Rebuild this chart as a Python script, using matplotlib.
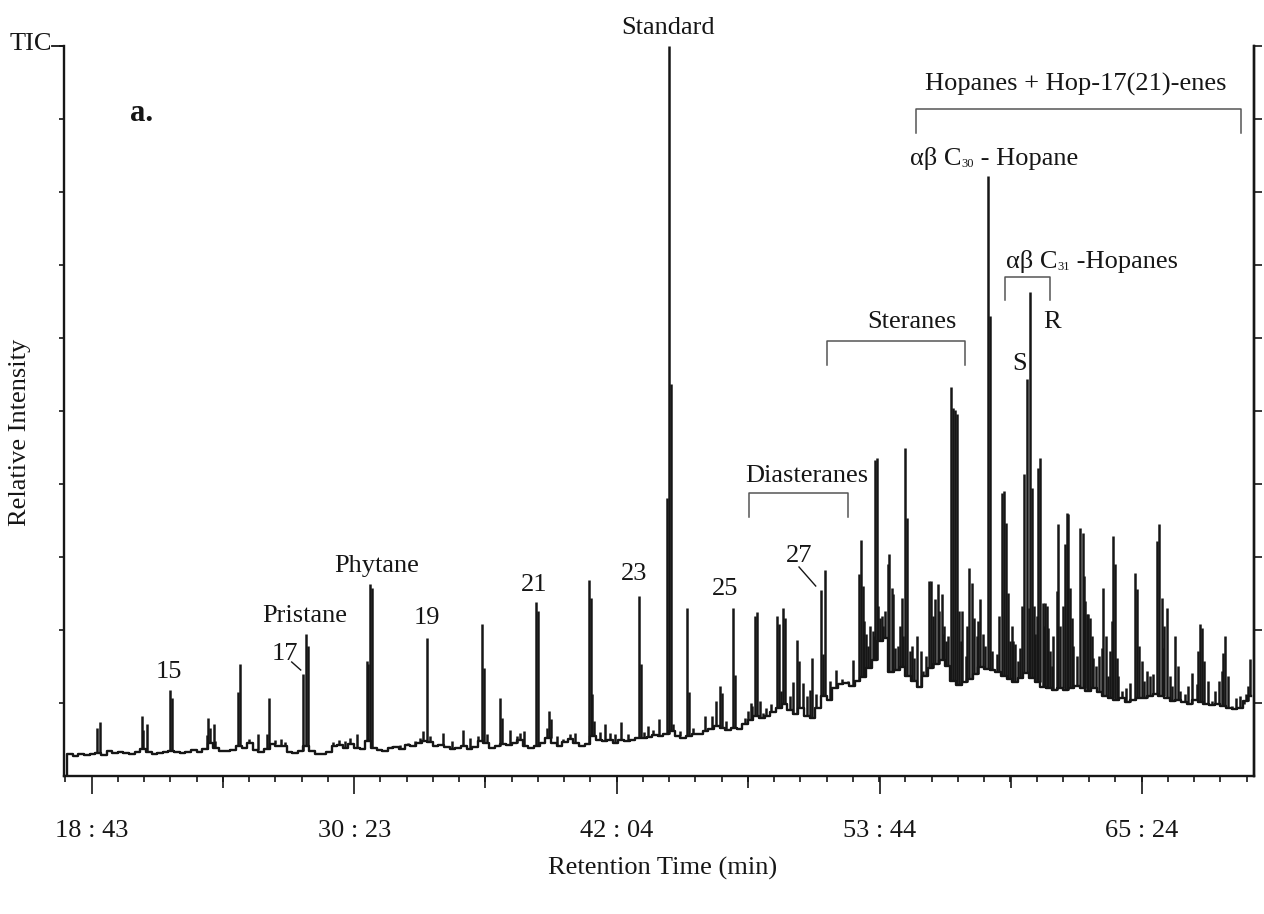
import numpy as np
import matplotlib
matplotlib.use("Agg")
import matplotlib.pyplot as plt

plt.rcParams['font.family'] = ['Liberation Serif', 'DejaVu Serif']

# ---------------- data (retention time in min, intensity in arbitrary units) ----
baseline_start = 17.5
baseline_step = 0.25
baseline = [
    0, 22, 20, 22, 21, 22, 23, 21, 25, 23,
    24, 23, 22, 24, 27, 24, 22, 23, 24, 25,
    24, 23, 24, 26, 24, 27, 33, 28, 25, 25,
    26, 30, 28, 33, 26, 24, 27, 32, 30, 30,
    24, 23, 25, 30, 25, 22, 22, 24, 30, 31,
    28, 32, 28, 27, 35, 28, 26, 25, 28, 29,
    27, 31, 30, 33, 35, 34, 30, 31, 29, 27,
    28, 30, 27, 29, 35, 33, 28, 30, 32, 31,
    33, 36, 30, 28, 30, 33, 38, 33, 30, 34,
    37, 33, 30, 32, 40, 36, 35, 36, 33, 36,
    35, 36, 38, 38, 39, 41, 40, 42, 45, 40,
    38, 40, 42, 42, 45, 47, 50, 48, 46, 48,
    47, 52, 56, 60, 58, 60, 64, 68, 72, 66,
    62, 68, 60, 58, 68, 80, 76, 88, 92, 93,
    90, 95, 99, 108, 116, 135, 138, 104, 106, 109,
    100, 95, 89, 100, 108, 112, 116, 110, 95, 91,
    94, 97, 102, 109, 107, 106, 104, 100, 97, 94,
    98, 103, 98, 94, 89, 88, 86, 88, 86, 88,
    90, 88, 85, 88, 84, 80, 78, 76, 78, 74,
    76, 78, 78, 80, 82, 80, 78, 75, 76, 74,
    72, 76, 74, 72, 71, 72, 70, 68, 67, 68,
    75, 80,
]

peak_times = [
    18.965, 19.072, 20.939, 21.010, 21.188, 22.197, 22.285, 23.828, 23.885, 23.974,
    24.139, 24.210, 25.205, 25.308, 25.708, 26.121, 26.521, 26.610, 26.860, 27.130,
    27.310, 28.121, 28.241, 28.343, 29.440, 29.710, 29.970, 30.190, 30.494, 30.939,
    31.000, 31.085, 31.174, 32.060, 32.420, 32.770, 33.080, 33.310, 33.440, 33.605,
    33.750, 34.317, 34.730, 35.232, 35.530, 35.899, 36.077, 36.152, 36.290, 36.863,
    36.939, 37.308, 37.620, 37.752, 37.930, 38.463, 38.565, 38.939, 39.028, 39.117,
    39.383, 39.660, 39.970, 40.197, 40.805, 40.894, 40.965, 41.054, 41.310, 41.530,
    41.752, 41.970, 42.254, 42.550, 43.028, 43.117, 43.260, 43.454, 43.660, 43.930,
    44.299, 44.374, 44.450, 44.565, 44.860, 45.188, 45.250, 45.454, 45.974, 46.290,
    46.460, 46.641, 46.717, 46.910, 47.232, 47.294, 47.750, 47.890, 48.060, 48.197,
    48.285, 48.420, 48.680, 48.910, 49.161, 49.250, 49.339, 49.454, 49.543, 49.750,
    50.050, 50.139, 50.343, 50.510, 50.717, 50.910, 51.130, 51.205, 51.294, 51.530,
    51.800, 52.060, 52.330, 52.539, 52.832, 52.908, 53.054, 53.130, 53.308, 53.543,
    53.605, 53.752, 53.828, 54.094, 54.165, 54.272, 54.343, 54.419, 54.717, 54.877,
    54.939, 55.170, 55.383, 55.580, 55.943, 56.019, 56.197, 56.317, 56.494, 56.565,
    56.685, 56.908, 57.010, 57.090, 57.161, 57.277, 57.410, 57.570, 57.721, 57.828,
    57.930, 58.050, 58.197, 58.317, 58.539, 58.628, 58.730, 58.939, 59.161, 59.263,
    59.352, 59.454, 59.530, 59.677, 59.752, 59.899, 60.152, 60.272, 60.361, 60.419,
    60.521, 60.641, 60.788, 60.863, 60.983, 61.085, 61.161, 61.232, 61.400, 61.605,
    61.677, 61.974, 62.050, 62.121, 62.197, 62.272, 62.641, 62.761, 62.863, 62.939,
    63.010, 63.085, 63.232, 63.605, 63.677, 63.880, 64.050, 64.121, 64.197, 64.272,
    64.510, 64.690, 64.863, 65.085, 65.188, 65.383, 65.605, 65.885, 66.050, 66.165,
    66.272, 66.343, 66.494, 66.730, 66.863, 67.090, 67.310, 67.605, 67.828, 67.974,
    68.050, 68.165, 68.510, 68.832, 68.939, 69.010, 69.085, 69.400, 69.752, 69.930,
    70.121, 70.197,
    # smaller peaks of the unresolved hump
    48.005, 48.565, 49.899, 50.641,
    52.974, 53.219, 53.419, 53.485, 53.663, 53.885, 53.974, 54.552, 54.641, 54.774,
    55.085, 55.263, 55.663, 55.797, 56.108, 56.374, 56.597, 56.774, 57.352, 57.619,
    58.108, 58.419, 59.041, 59.619, 59.974, 60.063, 60.597, 60.717, 61.041, 61.308,
    61.441, 61.752, 61.863, 62.330, 62.508, 62.819, 63.174, 63.352, 63.485, 63.797,
    63.974, 64.330, 65.263, 65.485, 65.752, 66.374, 66.641, 66.997, 67.441, 67.885,
    68.330, 68.641, 69.219, 69.574, 70.019,
]
peak_heights = [
    48, 54, 60, 46, 52, 86, 78, 41, 58, 48,
    52, 35, 84, 112, 37, 42, 42, 78, 36, 37,
    34, 102, 142, 130, 34, 36, 35, 38, 42, 115,
    112, 192, 188, 30, 31, 33, 35, 38, 45, 138,
    40, 43, 35, 46, 38, 40, 152, 108, 42, 78,
    58, 46, 40, 43, 45, 174, 165, 48, 65, 57,
    40, 37, 42, 43, 196, 178, 82, 55, 44, 52,
    43, 42, 54, 42, 180, 112, 44, 50, 46, 57,
    278, 730, 392, 52, 45, 168, 84, 48, 60, 60,
    75, 90, 83, 55, 168, 101, 58, 65, 70, 160,
    164, 75, 68, 72, 160, 152, 85, 168, 158, 80,
    136, 115, 93, 80, 118, 82, 186, 122, 206, 95,
    106, 97, 95, 116, 202, 236, 155, 142, 150, 316,
    318, 158, 160, 212, 222, 188, 182, 128, 178, 328,
    258, 130, 140, 125, 195, 195, 177, 192, 182, 142,
    135, 389, 368, 366, 362, 165, 165, 120, 208, 193,
    158, 140, 177, 142, 600, 460, 125, 122, 283, 285,
    253, 183, 135, 135, 132, 115, 302, 397, 168, 484,
    288, 142, 308, 318, 173, 173, 170, 148, 110, 185,
    252, 232, 263, 262, 188, 158, 248, 243, 175, 162,
    162, 158, 118, 128, 188, 100, 155, 240, 212, 118,
    85, 88, 93, 203, 187, 115, 105, 102, 235, 252,
    178, 128, 168, 90, 140, 85, 82, 103, 92, 152,
    148, 115, 75, 95, 105, 123, 140, 70, 80, 72,
    90, 117,
    73, 63, 94, 86,
    190, 130, 145, 140, 170, 150, 165, 130, 150, 140,
    125, 118, 105, 120, 160, 165, 150, 140, 135, 150,
    155, 130, 160, 150, 128, 170, 170, 160, 150, 125,
    140, 150, 170, 130, 120, 200, 140, 110, 120, 140,
    125, 100, 130, 95, 100, 150, 100, 110, 90, 125,
    95, 85, 100, 78, 82,
]

tick_labels = ["18 : 43", "30 : 23", "42 : 04", "53 : 44", "65 : 24"]

# annotation texts: (text, time, intensity)
peak_labels = [
    ("15", 22.130, 98), ("17", 27.285, 116), ("Pristane", 28.174, 154),
    ("Phytane", 31.397, 204), ("19", 33.597, 152), ("21", 38.374, 185),
    ("23", 42.841, 196), ("25", 46.863, 181), ("27", 50.174, 214),
    ("Standard", 44.330, 742), ("Diasteranes", 50.485, 294),
    ("Steranes", 55.174, 448), ("S", 59.974, 406), ("R", 61.419, 448),
    ("Hopanes + Hop-17(21)-enes", 62.463, 685),
]
# labels with a subscript: (before, subscript, after, left time, intensity)
sub_labels = [
    ("αβ C", "30", " - Hopane", 55.085, 611),
    ("αβ C", "31", " -Hopanes", 59.352, 508),
]
# group brackets: (start time, end time, top, leg bottom)
brackets = [
    (47.930, 52.330, 283, 259),
    (51.383, 57.530, 435, 411),
    (59.308, 61.308, 499, 476),
    (55.339, 69.797, 667, 643),
]
# leader lines: ((t0, h0), (t1, h1))
leaders = [((27.605, 114), (28.005, 106)), ((50.152, 209), (50.894, 190))]

# ---------------- figure ----------------
ink = "#161616"
W, H = 1264, 914
fig = plt.figure(figsize=(W / 100, H / 100), dpi=100)
ax = fig.add_axes([64 / W, 138 / H, 1190 / W, 730 / H])
ax.set_xlim(17.485, 70.374)
ax.set_ylim(0, 730)

bl = np.array(baseline, dtype=float)
bt = baseline_start + baseline_step * np.arange(len(bl))
ax.plot(bt, bl, drawstyle="steps-mid", color=ink, lw=1.7)

pt = np.array(peak_times)
ph = np.array(peak_heights, dtype=float)
idx = np.clip(np.rint((pt - baseline_start) / baseline_step).astype(int), 0, len(bl) - 1)
ax.vlines(pt, bl[idx], ph, color=ink, lw=1.8)

# spines
for s in ("left", "right", "bottom"):
    ax.spines[s].set_linewidth(1.7)
    ax.spines[s].set_color(ink)
ax.spines["top"].set_visible(False)

# x ticks
major_t = [int(a) + int(b) / 60 for a, b in (s.split(":") for s in tick_labels)]
interval = major_t[1] - major_t[0]
ax.set_xticks(major_t)
ax.set_xticklabels(tick_labels, fontsize=19)
minor_t = [m for m in major_t[0] + interval / 10 * np.arange(-1, 47) if 17.48 <= m <= 70.38]
ax.set_xticks(minor_t, minor=True)
ax.tick_params(axis="x", which="major", direction="out", length=13, width=1.2, pad=18.5, colors=ink)
ax.tick_params(axis="x", which="minor", direction="out", length=4.3, width=1.2, colors=ink)
mid_t = [m + interval / 2 for m in major_t if m + interval / 2 <= 70.38]
sec = ax.secondary_xaxis("bottom")
sec.set_xticks(mid_t)
sec.tick_params(axis="x", direction="out", length=8.6, width=1.2, labelbottom=False, colors=ink)
sec.spines["bottom"].set_visible(False)

# y ticks
yt = np.arange(73, 731, 73)
ax.set_yticks(yt)
ax.set_yticklabels([])
ax.tick_params(axis="y", direction="out", length=3.6, width=1.2, left=True, right=False, colors=ink)
secy = ax.secondary_yaxis("right")
secy.set_yticks(yt)
secy.tick_params(axis="y", direction="out", length=5.8, width=1.2, labelright=False, colors=ink)
secy.spines["right"].set_linewidth(1.7)

# TIC marker at top of left axis
ax.plot([-12 / 1190, 0], [1, 1], transform=ax.transAxes, clip_on=False, color=ink, lw=1.3)
ax.text(16.95, 726, "TIC", ha="right", va="baseline", fontsize=19, color=ink)
ax.text(20.952, 662, "a.", ha="center", va="center", fontsize=22, fontweight="bold", color=ink)

for txt, t, h in peak_labels:
    ax.text(t, h, txt, ha="center", va="baseline", fontsize=19, color=ink)

for pre, sub, post, t, h in sub_labels:
    a = ax.text(t, h, pre, ha="left", va="baseline", fontsize=19, color=ink)
    b = ax.annotate(sub, xy=(1, 0), xycoords=a, ha="left", va="bottom", fontsize=9, color=ink)
    ax.annotate(post, xy=(1, 0), xycoords=b, ha="left", va="bottom", fontsize=19, color=ink)

for t0, t1, top, bot in brackets:
    ax.plot([t0, t0, t1, t1], [bot, top, top, bot], color="#555555", lw=1.1, clip_on=False)

for (t0, h0), (t1, h1) in leaders:
    ax.plot([t0, t1], [h0, h1], color=ink, lw=1.0)

ax.set_xlabel("Retention Time (min)", fontsize=19, color=ink)
ax.xaxis.set_label_coords(0.503, -0.126)
ax.xaxis.label.set_verticalalignment("center")
ax.set_ylabel("Relative Intensity", fontsize=19, color=ink)
ax.yaxis.set_label_coords(-0.037, 0.471)
ax.yaxis.label.set_verticalalignment("center")

fig.savefig("out.png", dpi=100)
